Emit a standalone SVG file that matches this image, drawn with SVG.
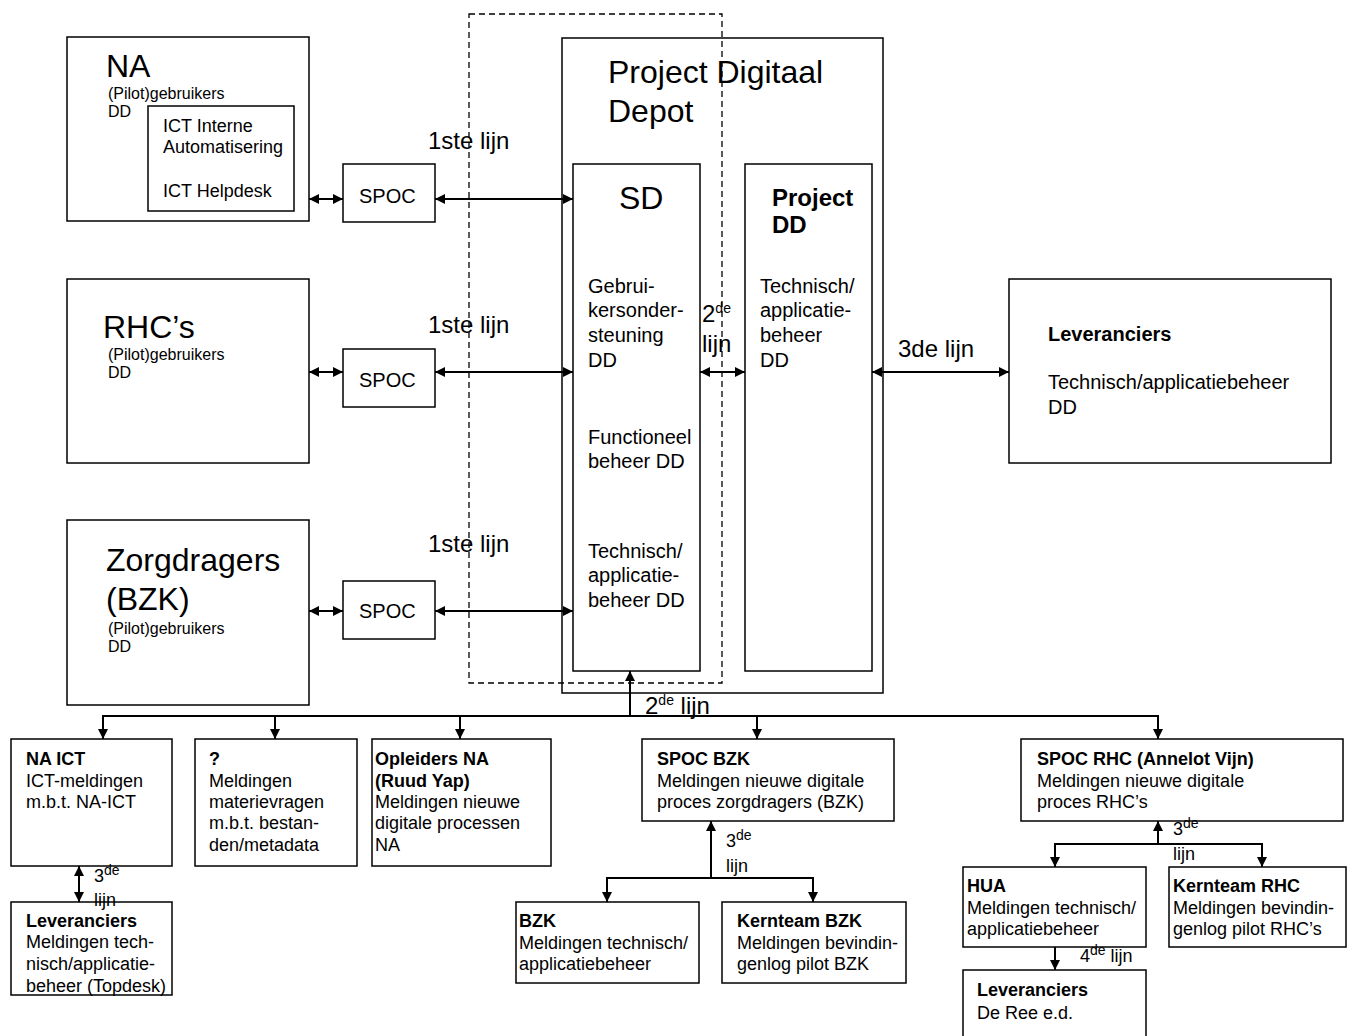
<svg xmlns="http://www.w3.org/2000/svg" width="1347" height="1036" viewBox="0 0 1347 1036">
  <style>
    text { font-family: "Liberation Sans", Arial, sans-serif; fill: #000; }
    .box { fill: #fff; stroke: #000; stroke-width: 1.5; }
    .frame { fill: none; stroke: #000; stroke-width: 1.5; }
    .dash { fill: none; stroke: #000; stroke-width: 1.3; stroke-dasharray: 6 4; }
    .ln { fill: none; stroke: #000; stroke-width: 2; }
    .t32 { font-size: 32px; }
    .t24 { font-size: 24px; }
    .t20 { font-size: 20px; }
    .t18 { font-size: 18px; }
    .t16 { font-size: 16px; }
    .b { font-weight: bold; }
    .sup { font-size: 14px; }
  </style>
  <defs>
    <marker id="ah" viewBox="0 0 10 10" refX="10" refY="5" markerWidth="11" markerHeight="10" markerUnits="userSpaceOnUse" orient="auto-start-reverse">
      <path d="M0,0 L10,5 L0,10 z" fill="#000"/>
    </marker>
  </defs>

  <!-- outer project frame -->
  <g id="project-dd-frame">
    <rect class="frame" x="562" y="38" width="321" height="655"/>
    <text class="t32" x="608" y="83">Project Digitaal</text>
    <text class="t32" x="608" y="122">Depot</text>
  </g>

  <!-- user groups -->
  <g id="na">
    <rect class="box" x="67" y="37" width="242" height="184"/>
    <text class="t32" x="106" y="77">NA</text>
    <text class="t16" x="108" y="99">(Pilot)gebruikers</text>
    <text class="t16" x="108" y="117">DD</text>
  </g>
  <g id="na-ict-intern">
    <rect class="box" x="148" y="106" width="146" height="105"/>
    <text class="t18" x="163" y="132">ICT Interne</text>
    <text class="t18" x="163" y="153">Automatisering</text>
    <text class="t18" x="163" y="197">ICT Helpdesk</text>
  </g>
  <g id="rhc">
    <rect class="box" x="67" y="279" width="242" height="184"/>
    <text class="t32" x="103" y="338">RHC’s</text>
    <text class="t16" x="108" y="360">(Pilot)gebruikers</text>
    <text class="t16" x="108" y="378">DD</text>
  </g>
  <g id="zorgdragers">
    <rect class="box" x="67" y="520" width="242" height="185"/>
    <text class="t32" x="106" y="571">Zorgdragers</text>
    <text class="t32" x="106" y="610">(BZK)</text>
    <text class="t16" x="108" y="634">(Pilot)gebruikers</text>
    <text class="t16" x="108" y="652">DD</text>
  </g>

  <!-- single points of contact -->
  <g id="spoc-na">
    <rect class="box" x="343" y="164" width="92" height="58"/>
    <text class="t20" x="359" y="203">SPOC</text>
  </g>
  <g id="spoc-rhc">
    <rect class="box" x="343" y="349" width="92" height="58"/>
    <text class="t20" x="359" y="387">SPOC</text>
  </g>
  <g id="spoc-zorgdragers">
    <rect class="box" x="343" y="581" width="92" height="58"/>
    <text class="t20" x="359" y="618">SPOC</text>
  </g>

  <!-- service desk and project team -->
  <g id="sd">
    <rect class="box" x="573" y="164" width="127" height="507"/>
    <text class="t32" x="619" y="209">SD</text>
    <text class="t20" x="588" y="293">Gebrui-</text>
    <text class="t20" x="588" y="317">kersonder-</text>
    <text class="t20" x="588" y="342">steuning</text>
    <text class="t20" x="588" y="367">DD</text>
    <text class="t20" x="588" y="444">Functioneel</text>
    <text class="t20" x="588" y="468">beheer DD</text>
    <text class="t20" x="588" y="558">Technisch/</text>
    <text class="t20" x="588" y="582">applicatie-</text>
    <text class="t20" x="588" y="607">beheer DD</text>
  </g>
  <g id="project-dd">
    <rect class="box" x="745" y="164" width="127" height="507"/>
    <text class="t24 b" x="772" y="206">Project</text>
    <text class="t24 b" x="772" y="233">DD</text>
    <text class="t20" x="760" y="293">Technisch/</text>
    <text class="t20" x="760" y="317">applicatie-</text>
    <text class="t20" x="760" y="342">beheer</text>
    <text class="t20" x="760" y="367">DD</text>
  </g>
  <g id="leveranciers-dd">
    <rect class="box" x="1009" y="279" width="322" height="184"/>
    <text class="t20 b" x="1048" y="341">Leveranciers</text>
    <text class="t20" x="1048" y="389">Technisch/applicatiebeheer</text>
    <text class="t20" x="1048" y="414">DD</text>
  </g>

  <!-- second line teams -->
  <g id="na-ict">
    <rect class="box" x="11" y="739" width="161" height="127"/>
    <text class="t18 b" x="26" y="765">NA ICT</text>
    <text class="t18" x="26" y="787">ICT-meldingen</text>
    <text class="t18" x="26" y="808">m.b.t. NA-ICT</text>
  </g>
  <g id="materie">
    <rect class="box" x="195" y="739" width="162" height="127"/>
    <text class="t18 b" x="209" y="765">?</text>
    <text class="t18" x="209" y="787">Meldingen</text>
    <text class="t18" x="209" y="808">materievragen</text>
    <text class="t18" x="209" y="829">m.b.t. bestan-</text>
    <text class="t18" x="209" y="851">den/metadata</text>
  </g>
  <g id="opleiders-na">
    <rect class="box" x="372" y="739" width="179" height="127"/>
    <text class="t18 b" x="375" y="765">Opleiders NA</text>
    <text class="t18 b" x="375" y="787">(Ruud Yap)</text>
    <text class="t18" x="375" y="808">Meldingen nieuwe</text>
    <text class="t18" x="375" y="829">digitale processen</text>
    <text class="t18" x="375" y="851">NA</text>
  </g>
  <g id="spoc-bzk">
    <rect class="box" x="642" y="739" width="252" height="82"/>
    <text class="t18 b" x="657" y="765">SPOC BZK</text>
    <text class="t18" x="657" y="787">Meldingen nieuwe digitale</text>
    <text class="t18" x="657" y="808">proces zorgdragers (BZK)</text>
  </g>
  <g id="spoc-rhc-annelot">
    <rect class="box" x="1021" y="739" width="322" height="82"/>
    <text class="t18 b" x="1037" y="765">SPOC RHC (Annelot Vijn)</text>
    <text class="t18" x="1037" y="787">Meldingen nieuwe digitale</text>
    <text class="t18" x="1037" y="808">proces RHC’s</text>
  </g>

  <!-- third and fourth line -->
  <g id="leveranciers-topdesk">
    <rect class="box" x="11" y="902" width="161" height="93"/>
    <text class="t18 b" x="26" y="927">Leveranciers</text>
    <text class="t18" x="26" y="948">Meldingen tech-</text>
    <text class="t18" x="26" y="970">nisch/applicatie-</text>
    <text class="t18" x="26" y="992">beheer (Topdesk)</text>
  </g>
  <g id="bzk">
    <rect class="box" x="516" y="902" width="183" height="81"/>
    <text class="t18 b" x="519" y="927">BZK</text>
    <text class="t18" x="519" y="949">Meldingen technisch/</text>
    <text class="t18" x="519" y="970">applicatiebeheer</text>
  </g>
  <g id="kernteam-bzk">
    <rect class="box" x="722" y="902" width="184" height="81"/>
    <text class="t18 b" x="737" y="927">Kernteam BZK</text>
    <text class="t18" x="737" y="949">Meldingen bevindin-</text>
    <text class="t18" x="737" y="970">genlog pilot BZK</text>
  </g>
  <g id="hua">
    <rect class="box" x="963" y="867" width="183" height="80"/>
    <text class="t18 b" x="967" y="892">HUA</text>
    <text class="t18" x="967" y="914">Meldingen technisch/</text>
    <text class="t18" x="967" y="935">applicatiebeheer</text>
  </g>
  <g id="kernteam-rhc">
    <rect class="box" x="1169" y="867" width="177" height="80"/>
    <text class="t18 b" x="1173" y="892">Kernteam RHC</text>
    <text class="t18" x="1173" y="914">Meldingen bevindin-</text>
    <text class="t18" x="1173" y="935">genlog pilot RHC’s</text>
  </g>
  <g id="leveranciers-de-ree">
    <rect class="box" x="963" y="970" width="183" height="80"/>
    <text class="t18 b" x="977" y="996">Leveranciers</text>
    <text class="t18" x="977" y="1019">De Ree e.d.</text>
  </g>

  <!-- dashed service-desk zone, drawn over the boxes -->
  <rect id="sd-zone" class="dash" x="469" y="14" width="253" height="669"/>

  <!-- connectors -->
  <g id="connectors">
    <line class="ln" x1="309" y1="199" x2="343" y2="199" marker-start="url(#ah)" marker-end="url(#ah)"/>
    <line class="ln" x1="435" y1="199" x2="573" y2="199" marker-start="url(#ah)" marker-end="url(#ah)"/>
    <line class="ln" x1="309" y1="372" x2="343" y2="372" marker-start="url(#ah)" marker-end="url(#ah)"/>
    <line class="ln" x1="435" y1="372" x2="573" y2="372" marker-start="url(#ah)" marker-end="url(#ah)"/>
    <line class="ln" x1="309" y1="611" x2="343" y2="611" marker-start="url(#ah)" marker-end="url(#ah)"/>
    <line class="ln" x1="435" y1="611" x2="573" y2="611" marker-start="url(#ah)" marker-end="url(#ah)"/>
    <line class="ln" x1="700" y1="372" x2="745" y2="372" marker-start="url(#ah)" marker-end="url(#ah)"/>
    <line class="ln" x1="872" y1="372" x2="1009" y2="372" marker-start="url(#ah)" marker-end="url(#ah)"/>

    <!-- second line distribution bus -->
    <line class="ln" x1="630" y1="716" x2="630" y2="671" marker-end="url(#ah)"/>
    <polyline class="ln" points="103,739 103,716 1158,716 1158,739" marker-start="url(#ah)" marker-end="url(#ah)"/>
    <line class="ln" x1="275" y1="716" x2="275" y2="739" marker-end="url(#ah)"/>
    <line class="ln" x1="460" y1="716" x2="460" y2="739" marker-end="url(#ah)"/>
    <line class="ln" x1="757" y1="716" x2="757" y2="739" marker-end="url(#ah)"/>

    <line class="ln" x1="79" y1="866" x2="79" y2="902" marker-start="url(#ah)" marker-end="url(#ah)"/>

    <line class="ln" x1="711" y1="878" x2="711" y2="821" marker-end="url(#ah)"/>
    <polyline class="ln" points="607,902 607,878 813,878 813,902" marker-start="url(#ah)" marker-end="url(#ah)"/>

    <line class="ln" x1="1158" y1="844" x2="1158" y2="821" marker-end="url(#ah)"/>
    <polyline class="ln" points="1055,867 1055,844 1262,844 1262,867" marker-start="url(#ah)" marker-end="url(#ah)"/>
    <line class="ln" x1="1055" y1="947" x2="1055" y2="970" marker-end="url(#ah)"/>
  </g>

  <!-- line labels -->
  <g id="labels">
    <text class="t24" x="428" y="149">1ste lijn</text>
    <text class="t24" x="428" y="333">1ste lijn</text>
    <text class="t24" x="428" y="552">1ste lijn</text>
    <text class="t24" x="702" y="322">2<tspan class="sup" dy="-9">de</tspan></text>
    <text class="t24" x="702" y="352">lijn</text>
    <text class="t24" x="898" y="357">3de lijn</text>
    <text class="t24" x="645" y="714">2<tspan class="sup" dy="-9">de</tspan><tspan dy="9"> lijn</tspan></text>
    <text class="t18" x="94" y="882">3<tspan class="sup" dy="-7">de</tspan></text>
    <text class="t18" x="94" y="906">lijn</text>
    <text class="t18" x="726" y="847">3<tspan class="sup" dy="-7">de</tspan></text>
    <text class="t18" x="726" y="872">lijn</text>
    <text class="t18" x="1173" y="835">3<tspan class="sup" dy="-7">de</tspan></text>
    <text class="t18" x="1173" y="860">lijn</text>
    <text class="t18" x="1080" y="962">4<tspan class="sup" dy="-7">de</tspan><tspan dy="7"> lijn</tspan></text>
  </g>
</svg>
